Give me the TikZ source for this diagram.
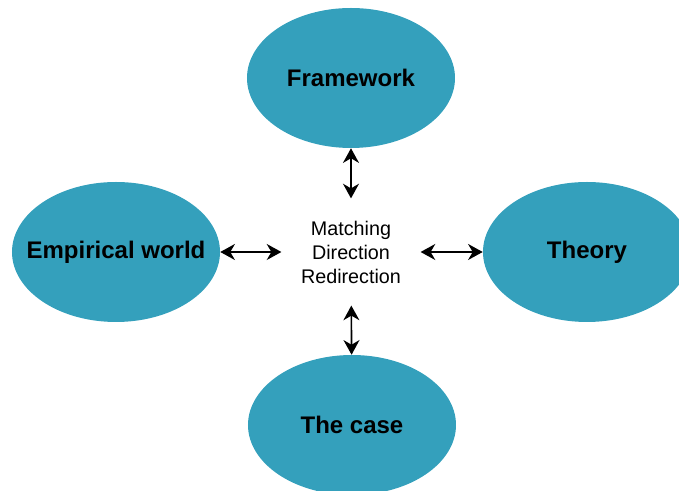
\documentclass[tikz,border=0pt]{standalone}
\usepackage{fontspec}
\setmainfont{Liberation Sans}
\usetikzlibrary{shapes.geometric,arrows.meta}
\definecolor{blobteal}{RGB}{52,160,188}
\tikzset{>={Stealth[length=11pt,width=12pt,inset=3.5pt]}}
\tikzset{
  blob/.style={ellipse,fill=blobteal,draw=none,inner xsep=-40pt,inner ysep=0pt,
    minimum width=156pt,minimum height=105pt,
    font=\fontsize{18}{20}\selectfont\bfseries},
  hub/.style={align=center,inner sep=0pt,minimum width=104pt,minimum height=80pt,
    font=\fontsize{14.8}{18}\selectfont},
  link/.style={<->,line width=1.2pt,black}
}

\begin{document}
\begin{tikzpicture}[x=0.75pt,y=0.75pt]
          \useasboundingbox (-351,-239) rectangle (328,252);

          % Centre text
          \node[hub] at (0,0) (hub) {Matching\\Direction\\Redirection};

          % Ellipses
          \node[blob] at (0,174)    (frame) {Framework};
          \node[blob] at (-235,0)   (world) {Empirical world};
          \node[blob] at (236,0)    (theory) {Theory};
          \node[blob] at (1,-173)   (case) {The case};

          % Arrows
          \draw[link] (frame)  -- (hub);
          \draw[link] (world)  -- (hub);
          \draw[link] (theory) -- (hub);
          \draw[link] (case)   -- (hub);

        \end{tikzpicture}
\end{document}
